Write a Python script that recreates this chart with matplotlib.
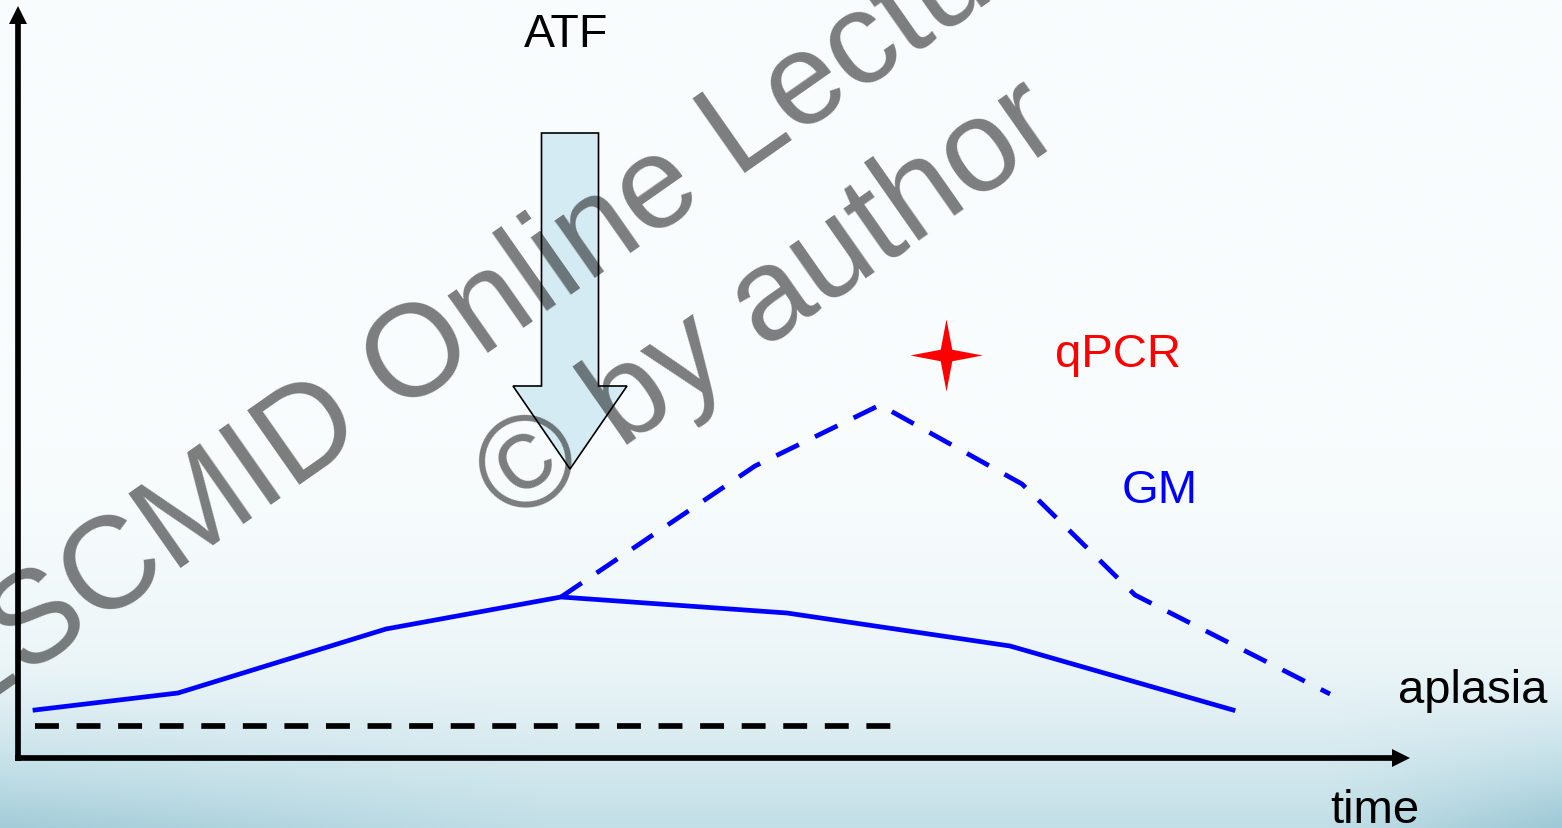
import numpy as np
import matplotlib
matplotlib.use("Agg")
import matplotlib.pyplot as plt
from matplotlib.patches import FancyArrow
from matplotlib.path import Path
from matplotlib.colors import LinearSegmentedColormap

plt.rcParams["font.family"] = ["Liberation Sans", "DejaVu Sans"]

# GM kinetics (solid) and qPCR kinetics (dashed); x = time, y = level (arbitrary units)
gm_time = [17, 160, 368, 543, 769, 992, 1215]
gm_level = [48, 65, 129, 161, 145, 112, 48]
pcr_time = [543, 737, 862, 1004, 1117, 1312]
pcr_level = [161, 292, 353, 274, 163, 64]
aplasia_time = [17, 879]
aplasia_level = [32, 32]
star_time = [928]
star_level = [403]

# ATF administration arrow
atf_time = 552
atf_top, atf_tip = 625, 289

W, H = 1562, 829
fig = plt.figure(figsize=(W / 100, H / 100), dpi=100)
ax = fig.add_axes([0, 0, 1, 1])
ax.set_xlim(-18, W - 18)
ax.set_ylim(-70, H - 70)
ax.axis("off")

# slide background: pale at the top, light blue towards the bottom
yy = np.linspace(0, 1, 300)[:, None]
xx = np.linspace(0, 1, 400)[None, :]
shade = 0.55 * np.clip((yy - 0.5) / 0.5, 0, 1) ** 2
corner = np.clip((yy - 0.8) / 0.2, 0, 1) ** 1.5
shade = shade + 0.25 * corner * np.clip(1 - xx / 0.35, 0, 1) + 0.3 * corner * np.clip((xx - 0.85) / 0.15, 0, 1)
bg_cmap = LinearSegmentedColormap.from_list(
    "bg", ["#f8fcfd", "#ebf5f8", "#d3e8ee", "#bcdbe4", "#a3ccd8", "#94c3d1"])
ax.imshow(shade, cmap=bg_cmap, vmin=0, vmax=1, extent=(-18, W - 18, -70, H - 70),
          origin="upper", aspect="auto", interpolation="bilinear", zorder=0)

# axes drawn as arrows
ax.add_patch(FancyArrow(0, -3, 0, 755, width=5.7, head_width=18, head_length=18,
                        length_includes_head=True, color="black", lw=0, zorder=3))
ax.add_patch(FancyArrow(-3, 0, 1395, 0, width=5.7, head_width=18, head_length=18,
                        length_includes_head=True, color="black", lw=0, zorder=3))

ax.plot(aplasia_time, aplasia_level, color="black", lw=4.1,
        ls=(0, (4.2, 3.1)), dash_capstyle="butt", zorder=2)
ax.plot(gm_time, gm_level, color="#0000ff", lw=3.4, solid_joinstyle="miter", zorder=2)
ax.plot(pcr_time, pcr_level, color="#0000ff", lw=3.4,
        ls=(0, (5.3, 3.8)), dash_capstyle="butt", zorder=2)

# four-pointed star for the qPCR result
r_in = 0.16
star = Path([(0, 1), (r_in, r_in), (1, 0), (r_in, -r_in), (0, -1),
             (-r_in, -r_in), (-1, 0), (-r_in, r_in), (0, 1)], closed=True)
ax.plot(star_time, star_level, ls="none", marker=star, markersize=52,
        color="#ff0000", markeredgewidth=0, zorder=3)

ax.add_patch(FancyArrow(atf_time, atf_top, 0, atf_tip - atf_top, width=57,
                        head_width=114, head_length=83, length_includes_head=True,
                        facecolor="#d4ebf3", edgecolor="black", lw=1.2, zorder=2))

ax.text(548, 712, "ATF", fontsize=33.5, ha="center", va="baseline", color="black")
ax.text(1037, 392, "qPCR", fontsize=34, ha="left", va="baseline", color="#ff0000")
ax.text(1104, 256, "GM", fontsize=34, ha="left", va="baseline", color="#0000ff")
ax.text(1380, 56, "aplasia", fontsize=34, ha="left", va="baseline", color="black")
ax.text(1312, -64, "time", fontsize=34, ha="left", va="baseline", color="black")

# watermark
ax.text(683, 555, "ESCMID Online Lecture Library", fontsize=94, rotation=35,
        rotation_mode="anchor", ha="center", va="baseline", color="black", alpha=0.5, zorder=5)
ax.text(772, 427, "\u00a9 by author", fontsize=94, rotation=35,
        rotation_mode="anchor", ha="center", va="baseline", color="black", alpha=0.5, zorder=5)

fig.savefig("out.png", dpi=100)
